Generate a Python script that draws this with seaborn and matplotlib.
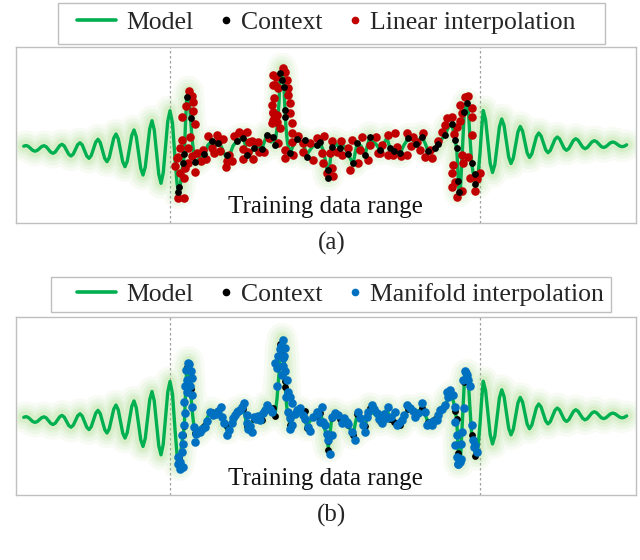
import numpy as np
import pandas as pd
import matplotlib
matplotlib.use("Agg")
import matplotlib.pyplot as plt
import seaborn as sns
from matplotlib.lines import Line2D
from matplotlib.patches import Rectangle
from matplotlib.legend_handler import HandlerBase

# ---------------- data ----------------
TRAIN_START = 0.0
TRAIN_END = 310.0

# left extrapolation (time grid)
left_t = np.arange(-146.25, 0.01, 2.25)
left_v = [1.8,
          2.5, 1.7, -0.4, -2.4,
          -3.2, -2.4, -0.5, 1.5,
          2.3, 1.2, -1.5, -4.2,
          -5.3, -4.0, -0.8, 2.4,
          3.7, 2.0, -2.2, -6.3,
          -8.0, -6.1, -1.4, 3.4,
          5.3, 3.0, -2.5, -8.0,
          -10.3, -7.5, -0.8, 5.9,
          8.7, 5.4, -2.5, -10.4,
          -13.7, -9.6, 0.2, 9.9,
          14.0, 9.2, -2.4, -13.9,
          -18.7, -13.3, -0.4, 12.6,
          18.0, 11.4, -4.5, -20.4,
          -27.0, -19.1, 0.2, 19.4,
          27.3, 18.1, -4.0, -26.1,
          -35.3, -24.7, 1.0, 26.7,
          37.3]

# training range model output
train_t = [2.5, 5, 7, 8.7, 10, 12, 13.3, 14.3, 15.5, 16.7,
           18.5, 19.5, 20.5, 22, 24, 25, 28, 31, 34.3, 38,
           41.7, 45, 48, 51, 54, 56.7, 60, 63, 66.7, 70,
           73.3, 75, 76.7, 80, 84, 88, 91.7, 94, 96.7, 99,
           101, 103.3, 105, 107, 109, 110, 112, 113, 114, 115,
           116, 117.5, 120, 123, 127, 131, 133, 136.7, 140, 143,
           146.7, 150, 153, 156, 158.3, 160, 161.7, 164, 167, 170,
           174, 178, 181, 183.3, 185.5, 187.3, 191, 195, 197.5, 200,
           203, 206, 210, 214, 217, 220, 224, 227, 230, 234,
           238.3, 242, 246, 249, 251.7, 255, 258, 261, 265, 268,
           271, 275, 278, 281.7, 284, 285, 286.7, 287.5, 288.3, 289,
           290.5, 292, 294.3, 296.7, 298.5, 300, 301.7, 303, 305, 306.5,
           308, 310, 311.7]
train_v = [25, -10, -35, -46, -40, -22, -15, -6, 25, 50,
           57, 45, 30, 10, -8, -14, -12, -8, -6, 3,
           7, 2, 5, 2, -5, -10, -6, 2, 7, 9,
           10.3, 4, -7, -6, 0, 2, -1, 5, 13, 8,
           6, 11, 4, 20, 45, 70, 80, 74, 61, 38,
           20, 5, -5, 2, 9, 6, 6, -7, -2, 2,
           3, 6, -2, -15, -28, -15, 1.3, 6, 3, -0.3,
           2, -6, -12, -15, -3, 4.7, 2, -7, 3, 11.3,
           6, 4, -2, 5, 10, -0.3, -3, -4, -5.3, 3,
           9.7, 9, 4, 8, 11.3, 5, -3, -4, -0.3, 4,
           8, 13, 20, 23.7, 15, 8, -0.3, -15, -33, -43.7,
           -40, -10, 36.3, 44.7, 35, 10, -15.3, -24, -33, -36,
           -28, -5, 20]

# right extrapolation
right_t = np.linspace(313.25, 456.625, 63)
right_v = [37.5, 28.4, 6.5, -15.4,
           -24.5, -16.7, 2.3, 21.2,
           29.0, 22.5, 6.8, -9.0,
           -15.5, -10.1, 3.0, 16.1,
           21.5, 17.0, 6.0, -5.0,
           -9.5, -5.9, 2.8, 11.4,
           15.0, 12.1, 5.2, -1.8,
           -4.7, -2.4, 3.2, 8.7,
           11.0, 9.1, 4.4, -0.4,
           -2.3, -0.6, 3.5, 7.6,
           9.3, 7.8, 4.3, 0.8,
           -0.7, 0.5, 3.3, 6.1,
           7.3, 6.3, 3.9, 1.5,
           0.5, 1.3, 3.3, 5.2,
           6.0, 5.3, 3.7, 2.0,
           1.3, 1.8, 3.2]

# context points
ctx_t = [8.3, 9, 13.3, 14.3, 16.7, 20.5, 25, 34.3, 41.7, 56.7,
         66.7, 73.3, 76.7, 91.7, 96.7, 103.3, 105, 110, 111.7, 114,
         115, 115.4, 120, 135, 136.7, 146.7, 158.3, 158.3, 161.7, 170,
         183.3, 187.3, 195, 200, 220, 230, 238.3, 251.7, 265, 275,
         281.7, 285, 286.7, 288.3, 289, 294.3, 296.7, 301.7, 305, 305,
         48, 84, 127, 150, 178, 210, 246, 258, 268, 224]
ctx_v = [-43.7, -38.7, -15.3, -6.3, 51.3, 29.7, -13.7, -6.3, 7, -7,
         7, 10.3, -7, -1, 13, 11.3, 3, 74.7, 68, 61.3,
         38, 31.3, -5.3, 8, -8.7, 3, -22, -30.3, 1.3, -0.3,
         -15.3, 4.7, -7, 11.3, -0.3, -5.3, 9.7, 11.3, -0.3, 13,
         23.7, 8, -0.3, -33, -43.7, 36.3, 44.7, -15.3, -26.3, -36.3,
         5, 0, 9, 6, -6, -2, 4, -3, 4, -3]

# linear interpolation points (panel a)
lin_t = [19, 23.3, 23.3, 25, 11.7, 20, 18.3, 10, 8.3, 6.7,
         15, 10, 14.3, 8.3, 14, 25, 30.7, 38.3, 44.3, 46.7,
         48.3, 50, 55.7, 56.7, 61.7, 59, 64.3, 69, 72, 76.7,
         73.3, 73.3, 77.7, 83.3, 82.3, 89, 94.3, 99, 103.3, 103.3,
         101.7, 103.3, 101.7, 16, 21.5, 12, 22, 18, 5, 27,
         33, 36, 42, 53, 88, 79,
         112.7, 106, 105, 108.3, 118.3, 118.3, 104, 120, 103.3, 106.7,
         120, 103.3, 106.7, 121.7, 110, 121.7, 108.3, 121.7, 115, 123.3,
         115, 128.3, 133.3, 133.3, 140, 142.7, 146.7, 154, 151.7, 153.3,
         156.7, 163.3, 161.7, 160, 161.7, 170.7, 166.7, 171.7, 180, 178.3,
         181.7, 188.3, 190, 191.7, 198.3, 200, 206, 208.3, 115, 117,
         210, 211.7, 217.7, 225, 218.3, 226.7, 223.3, 231, 236.7, 236.7,
         241, 243.3, 247, 253.3, 250, 255, 260, 261.7, 268.3, 271.7,
         275, 276.7, 281.7, 286.7, 289.5, 284, 291.7, 293.3, 283.3, 281.7,
         285, 281.7, 286.7, 292.3, 295, 290, 301.7, 301.7, 301.7, 298.3,
         305, 306.5, 310, 300, 292, 298]
lin_v = [57, 46.3, 37, 23.7, 31.3, 11.3, -0.3, -0.3, -8.7, -9.7,
         -20.3, -25.3, -30.3, -49.7, -49.7, -23.7, -13, 12.3, -4.7, 13,
         5.7, -3, -18.7, -13, -13, -7, 12, 16.3, 14, 15.7,
         -1.3, -11, -3.7, -11, 7, -4, -4.3, 10, 73, 63,
         43, 34.7, 24.7, 42, 52, 8, -8, -15, -18, -5,
         -2, -11, 0, 9, 6, 6,
         80.3, 71.3, 63, 59.7, 59.7, 53, 49.7, 44.7, 36.3, 33,
         34.7, 28, 26.3, 24.7, 19.7, 14.7, 4.7, 6.3, -2, -7,
         -10.3, 12, 4.7, -4.3, 4.7, -12, 9.7, 12.3, -5.3, -15.3,
         -25.3, -27.7, -20.3, -5.3, 7, 7, -3.7, -7, -22, -0.3,
         8, -15.3, -2, 11.3, -12, 3, 11.3, -5.3, 76, 68,
         -5.3, 3, 13, 14.7, -7, 1.3, -7, -8, 14.7, -7,
         2, 11.3, 6, 14.7, -2, -8.7, -2, -10.3, 7, 16.3,
         23, 29.7, 31.3, 21.3, 27, 14, -7, -15.3, -17, -25.3,
         -33.7, -38.7, -48.7, -43, 51.3, 43, 39.7, 31.3, 13, -8.7,
         -43, -31, -25.3, -30.3, 35, 52]

# manifold interpolation points (panel b)
man_t = [7.7, 10, 13.3, 8.3, 11.7, 13.3, 11.7, 14.3, 15, 14.3,
         16.7, 15, 16.7, 15.7, 19, 21, 22.3, 20, 22.3, 21.5,
         23.5, 25, 25.7, 30, 35, 40, 43.3, 51, 52.3, 54.3,
         56.7, 59, 61.7, 65, 66.7, 70, 74.3, 76.7, 76.7, 78.3,
         82.3, 84.3, 90, 93.3, 96.7, 101.7,
         100, 106.7, 106.7, 105, 108.3, 110, 112.7, 115, 113.3, 113.3,
         115, 111.7, 116.7, 118.3, 120, 121.7, 118.3, 120, 121.7, 120,
         130, 133.3, 138.3, 140, 143.3, 146.7, 151.7, 150, 155, 156.7,
         158.3, 160, 161.7, 161.7, 168.3, 171.7, 176.7, 181.7, 185, 188.3,
         193.3, 195, 198.3, 201.7, 206.7,
         211.7, 216.7, 218.3, 225, 226.7, 231.7, 236.7, 240, 245, 251.7,
         255, 256.7, 261.7, 266.7, 270, 275, 276.7, 280, 283.3, 285,
         285, 286.7, 285, 286.7, 288.3, 291, 291, 292.3, 294.3, 293.3,
         295, 298.3, 300, 301.7, 303.3, 305, 306.7,
         27, 32, 37, 46, 48, 63, 68, 72, 80, 86,
         88, 95, 98, 125, 127, 135, 148, 153, 165, 174,
         178, 190, 197, 204, 209, 214, 221, 229, 234, 243,
         248, 259, 263, 268, 272, 278, 304, 297, 9.5, 17.5,
         110.8, 114.2, 116, 287.8, 289.5, 296]
man_v = [-44.3, -49.3, -47.7, -37.7, -32.7, -24.3, -16, -6, 5.7, 17.3,
         27.3, 32.3, 39, 49, 54.7, 47.3, 40.7, 32.3, 24, 12,
         -8, -22.7, -14.3, -12.7, -7.7, 7.3, 4, 12.3, 2.3, -4.3,
         -16, -11, -4.3, 4, 7.3, 9, 15.7, 4, -4.3, -9.3,
         -12.7, 2.3, -1, 5.7, 14, 7.3,
         10, 32.3, 50.7, 55.7, 62.3, 69, 78, 70.7, 60.7, 52.3,
         47.3, 44, 39, 27.3, 22.3, 15.7, 7.3, 0.7, -6, -9.3,
         10.7, 4, -7.7, -12, 2.3, 7.3, 12.3, -2.7, -6, -14.3,
         -21, -34.3, -16, 2.3, 4, -4.3, -2.7, -12.7, -21, 6.7,
         -6, -12.7, 7.3, 14, 5.7,
         -4.3, 0.7, 12.3, 7.3, -6, -1, 14, 10.7, 2.3, 15.7,
         7.3, -6, -6, -1, 9, 14, 27.3, 29, 24, 12.3,
         -2.7, -16, -26, -37.7, -44.3, -39.3, -24.3, -12.7, 10.7, 39,
         47.3, 39, 32.3, -6, -21, -26, -32.7,
         -13, -10, -2, 5, 8, 1, 8, 12, -7, 0,
         3, 9, 11, 5, 9, 0, 5, -3, 6, 1,
         -5, 1, 2, 10, 0, 5, 2, -4, 4, 8,
         6, -4, -2, 4, 10, 22, -28, 44, -42, 56,
         72, 62, 22, -44, -42, 46]

# ---------------- styling ----------------
GREEN = "#00b050"
GLOW = "#92d36e"
RED = "#c00000"
BLUE = "#0070c0"
BLACK = "#000000"
FRAME = "#bfbfbf"

sns.set_style("white")
plt.rcParams["font.family"] = ["Liberation Serif", "DejaVu Serif"]

model_t = np.concatenate([left_t, np.array(train_t), right_t])
model_v = np.concatenate([np.array(left_v), np.array(train_v), np.array(right_v)])
model_df = pd.DataFrame({"t": model_t, "v": model_v})
ctx_df = pd.DataFrame({"t": ctx_t, "v": ctx_v})
lin_df = pd.DataFrame({"t": lin_t, "v": lin_v})
man_df = pd.DataFrame({"t": man_t, "v": man_v})

W, H = 640, 560
fig = plt.figure(figsize=(W / 100, H / 100), dpi=100)

def fig_rect(x0, y0, x1, y1):
    return [x0 / W, 1 - y1 / H, (x1 - x0) / W, (y1 - y0) / H]

ax_a = fig.add_axes(fig_rect(16, 47, 636, 223))
ax_b = fig.add_axes(fig_rect(16, 317, 636, 495))


def draw_panel(ax, interp_df, interp_color, ctx_on_top):
    for lw, a in [(22, 0.07), (17, 0.09), (12, 0.11), (8, 0.14)]:
        sns.lineplot(data=model_df, x="t", y="v", ax=ax, sort=False, estimator=None,
                     color=GLOW, linewidth=lw, alpha=a, legend=False,
                     solid_capstyle="round", solid_joinstyle="round", zorder=1)
    sns.lineplot(data=model_df, x="t", y="v", ax=ax, sort=False, estimator=None,
                 color=GREEN, linewidth=2.4, legend=False, zorder=3,
                 solid_joinstyle="round")
    zc = 6 if ctx_on_top else 4
    zi = 5 if ctx_on_top else 6
    sns.scatterplot(data=interp_df, x="t", y="v", ax=ax, color=interp_color, s=38,
                    linewidth=0, legend=False, zorder=zi)
    sns.scatterplot(data=ctx_df, x="t", y="v", ax=ax, color=BLACK, s=24,
                    linewidth=0, legend=False, zorder=zc)
    ax.axvline(TRAIN_START, color="#a0a0a0", lw=0.9, ls=(0, (2, 2)), zorder=0)
    ax.axvline(TRAIN_END, color="#a0a0a0", lw=0.9, ls=(0, (2, 2)), zorder=0)
    ax.set_xlim(-154, 466)
    ax.set_ylim(-75, 101)
    ax.set_xticks([])
    ax.set_yticks([])
    ax.set_xlabel("")
    ax.set_ylabel("")
    for sp in ax.spines.values():
        sp.set_color(FRAME)
        sp.set_linewidth(1.0)
    ax.text((TRAIN_START + TRAIN_END) / 2, -59, "Training data range",
            ha="center", va="center", fontsize=18, color="#111111", zorder=7)


draw_panel(ax_a, lin_df, RED, True)
draw_panel(ax_b, man_df, BLUE, False)


class LongLineHandler(HandlerBase):
    def create_artists(self, legend, orig_handle, xdescent, ydescent,
                       width, height, fontsize, trans):
        y = height / 2 - ydescent
        x1 = width - xdescent - 0.12 * fontsize
        x0 = x1 - 1.5 * fontsize
        ln = Line2D([x0, x1], [y, y], color=GREEN, lw=2.6, transform=trans)
        return [ln]


def add_legend(label3, color3, cy, box):
    h_model = Line2D([], [], color=GREEN)
    h_ctx = Line2D([], [], marker="o", ls="", color=BLACK, markersize=4.5)
    h_int = Line2D([], [], marker="o", ls="", color=color3, markersize=4.5)
    leg = fig.legend([h_model, h_ctx, h_int], ["Model", "Context", label3],
                     loc="center left", bbox_to_anchor=(103.6 / W, 1 - cy / H),
                     ncol=3, frameon=False, fontsize=18.5, borderpad=0,
                     borderaxespad=0, handlelength=0.6, handletextpad=0.3,
                     columnspacing=0.95, handler_map={h_model: LongLineHandler()})
    x0, y0, x1, y1 = box
    fig.patches.append(Rectangle((x0 / W, 1 - y1 / H), (x1 - x0) / W, (y1 - y0) / H,
                                 transform=fig.transFigure, fill=False,
                                 edgecolor=FRAME, lw=1.0))
    return leg


add_legend("Linear interpolation", RED, 23, (58, 3, 605, 44))
add_legend("Manifold interpolation", BLUE, 294.5, (51, 277, 611, 312))

fig.text(331.7 / W, 1 - 243 / H, "(a)", ha="center", va="center", fontsize=18)
fig.text(331.7 / W, 1 - 515 / H, "(b)", ha="center", va="center", fontsize=18)

fig.savefig("out.png", dpi=100)
